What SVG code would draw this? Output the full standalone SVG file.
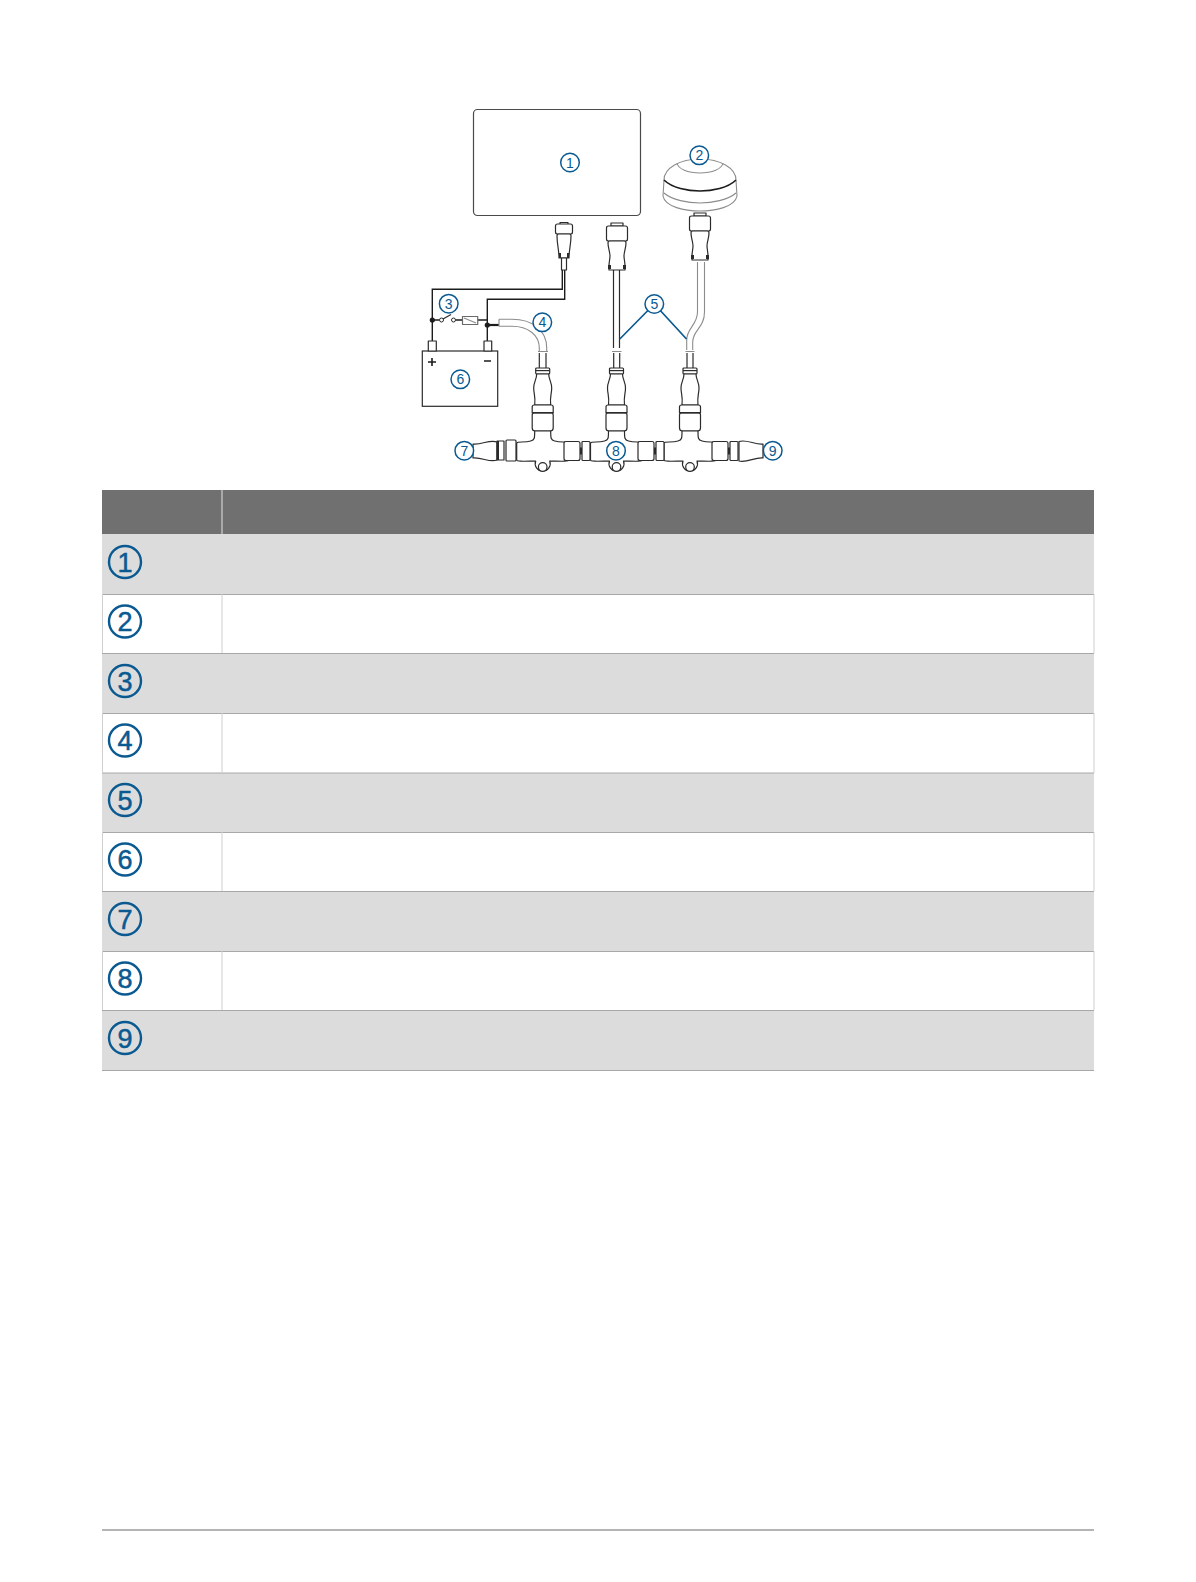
<svg xmlns="http://www.w3.org/2000/svg" width="1196" height="1582" viewBox="0 0 1196 1582">
<style>
.l{fill:none;stroke:#2b2b2b;stroke-width:1.2}
.g{fill:none;stroke:#8c8c8c;stroke-width:1.1}
.w{fill:none;stroke:#1c1c1c;stroke-width:1.4}
.s{fill:#fff;stroke:#2b2b2b;stroke-width:1.2;stroke-linejoin:round}
.k{fill:#2b2b2b}
.c{fill:#fff;stroke:#0a5a91;stroke-width:1.5}
.n{font-family:"Liberation Sans",sans-serif;font-size:14px;fill:#0a5a91;text-anchor:middle}
.tc{fill:none;stroke:#0a5a91;stroke-width:2.4}
.tn{font-family:"Liberation Sans",sans-serif;font-size:27px;fill:#0a5a91;text-anchor:middle;stroke:#0a5a91;stroke-width:.5}
.grey{fill:#dcdcdc}
.rl{stroke:#a8a8a8;stroke-width:1;fill:none}
.vl{stroke:#cfcfcf;stroke-width:1;fill:none}
.d{fill:#1c1c1c}
</style>
<defs>
<g id="fem">
<path class="s" d="M-7,1 q0,-1 1,-1 h12 q1,0 1,1 v4 q0,1 -1,1 h-12 q-1,0 -1,-1z"/>
<path class="k" d="M-7,2h14v1.2h-14z"/>
<path class="s" d="M-6,6 C-6,11 -9,14 -9,20 C-9,26 -7,28 -8,37 H8 C7,28 9,26 9,20 C9,14 6,11 6,6z"/>
<path class="s" d="M-10.5,39 q0,-2 2,-2 h17 q2,0 2,2 v6 h-21z"/>
<path class="s" d="M-10.5,47 q0,-2 2,-2 h17 q2,0 2,2 v13 q0,3 -3,3 h-15 q-3,0 -3,-3z"/>
<path class="k" d="M-10.5,44h21v1.4h-21z"/>
</g>
<g id="tee">
<path class="s" d="M-8,-1 C-8,6 -8,8 -12,9 C-18,11 -25,9 -26,11 V28 C-26,30 -14,29 -7,29 A7.5,7.5 0 1 0 7,29 C14,29 26,30 26,28 V11 C25,9 18,11 12,9 C8,8 8,6 8,-1z"/>
<circle class="s" cx="0" cy="35" r="4.3"/>
</g>
<g id="nutH">
<path class="s" d="M0,2 q0,-2 2,-2 h12 q2,0 2,2 v15 q0,2 -2,2 h-12 q-2,0 -2,-2z"/>
<path class="s" d="M18,1 q0,-1 1,-1 h6 q1,0 1,1 v17 q0,1 -1,1 h-6 q-1,0 -1,-1z"/>
<path class="k" d="M16,6h2v7h-2z"/>
</g>
<g id="male">
<path class="s" d="M-6,-3 h12 v3 h-12z"/>
<path class="s" d="M-10.5,2 q0,-2 2,-2 h17 q2,0 2,2 v11 q0,2 -2,2 h-17 q-2,0 -2,-2z"/>
<path class="s" d="M-9,17 q0,-2 2,-2 h14 q2,0 2,2 C9,22 7,26 7,30 C7,33 8,36 8,40 V44 H-8 V40 C-8,36 -7,33 -7,30 C-7,26 -9,22 -9,17z"/>
<path class="k" d="M-9,39h3v4h-3zM6,39h3v4h-3z"/>
</g>
</defs>

<g id="table">
<rect x="102" y="490" width="992" height="44" fill="#717070"/>
<path d="M222,490V534" stroke="#e4e4e4" stroke-width="1"/>
<rect class="grey" x="102" y="534" width="992" height="60"/>
<rect class="grey" x="102" y="653.5" width="992" height="60"/>
<rect class="grey" x="102" y="773" width="992" height="60"/>
<rect class="grey" x="102" y="891.5" width="992" height="60"/>
<rect class="grey" x="102" y="1010" width="992" height="60"/>
<path class="rl" d="M102,594.5H1094M102,653.5H1094M102,713.5H1094M102,773H1094M102,832.5H1094M102,891.5H1094M102,951.5H1094M102,1010.5H1094M102,1070.5H1094"/>
<path class="vl" d="M102.5,594V653M222,594V653M1094,594V653M102.5,713V773M222,713V773M1094,713V773M102.5,832V891M222,832V891M1094,832V891M102.5,951V1010M222,951V1010M1094,951V1010"/>
<g id="row1"><circle class="tc" cx="125" cy="562" r="16"/><text class="tn" x="125" y="571.5">1</text></g>
<g id="row2"><circle class="tc" cx="125" cy="621.5" r="16"/><text class="tn" x="125" y="631">2</text></g>
<g id="row3"><circle class="tc" cx="125" cy="681" r="16"/><text class="tn" x="125" y="690.5">3</text></g>
<g id="row4"><circle class="tc" cx="125" cy="740.5" r="16"/><text class="tn" x="125" y="750">4</text></g>
<g id="row5"><circle class="tc" cx="125" cy="800" r="16"/><text class="tn" x="125" y="809.5">5</text></g>
<g id="row6"><circle class="tc" cx="125" cy="859.5" r="16"/><text class="tn" x="125" y="869">6</text></g>
<g id="row7"><circle class="tc" cx="125" cy="919" r="16"/><text class="tn" x="125" y="928.5">7</text></g>
<g id="row8"><circle class="tc" cx="125" cy="978.5" r="16"/><text class="tn" x="125" y="988">8</text></g>
<g id="row9"><circle class="tc" cx="125" cy="1038" r="16"/><text class="tn" x="125" y="1047.5">9</text></g>
</g>
<path id="footer" d="M102,1530H1094" stroke="#6a6a6a" stroke-width="1"/>

<g id="connectors">
<path class="w" d="M432.3,341V289.3H562.3V270M487.3,341V299.3H564.7V270"/>
<path class="w" d="M432.3,320H439.5M455.5,320H462.5M477.7,320H487.3"/>
<path d="M487.3,325H499" stroke="#1c1c1c" stroke-width="2.2"/>
<path class="l" d="M613.5,270V348M619.5,270V348"/>
<path class="g" d="M697.5,262V312C697.5,325 686.7,328 686.7,340V350M704.5,262V312C704.5,328 692.7,330 692.7,342V350"/>
<path class="g" d="M499,319.3V326.3M499,319.3H512C532,319.3 546.7,330 546.7,348V351M499,326.3H512C528,326.3 539.3,335 539.3,348V351"/>
<path class="l" d="M539.3,353V368M546,353V368M613.7,353V368M619.7,353V368M687,353V368M693,353V368"/>
<path class="g" d="M538,351.5H548M612,351.5H621.5M685.5,351.5H694.5" stroke-width="2"/>
<path d="M654.3,304L619.8,339M654.3,304L686.5,339" fill="none" stroke="#0a5a91" stroke-width="1.7"/>
</g>

<g id="node1"><rect x="473.5" y="109.5" width="167" height="106" rx="4" fill="#fff" stroke="#4a4a4a" stroke-width="1.2"/></g>

<g id="node2">
<path d="M663,196C665,207 685,211 700,211C715,211 735,207 737,196L736.5,180H663.5z" fill="#fff"/>
<path class="g" d="M664,180L663,196C665,207 685,211 700,211C715,211 735,207 737,196L736,180"/>
<path class="g" d="M664,193C672,200 688,203 700,203C712,203 728,200 736,193"/>
<path d="M664,180C664,168 680,159 700,159C720,159 736,168 736,180" fill="none" stroke="#8c8c8c" stroke-width="1.1"/>
<path d="M664,180C672,188 688,191 700,191C712,191 728,188 736,180" fill="none" stroke="#1c1c1c" stroke-width="1.6"/>
<path class="g" d="M677,163C678,169 688,173 700,173C712,173 722,169 723,163"/>
<use href="#male" x="700" y="216"/>
</g>

<g id="node2b">
<use href="#male" x="617" y="226"/>
</g>

<g id="node1c">
<path class="s" d="M560,222.5 h8 v2 h-8z"/>
<path class="s" d="M555.5,226 q0,-2 2,-2 h13 q2,0 2,2 v6 q0,2 -2,2 h-13 q-2,0 -2,-2z"/>
<path class="s" d="M557,236 q0,-2 2,-2 h10 q2,0 2,2 C571,244 569,250 569,258 H559 C559,250 557,244 557,236z"/>
<path class="k" d="M559,253h2v5h-2zM567,253h2v5h-2z"/>
<path class="s" d="M561.5,258 h5 v12 h-5z"/>
</g>

<g id="node3">
<rect x="422.3" y="351" width="75.4" height="55.3" fill="#fff" stroke="#2b2b2b" stroke-width="1.2"/>
<rect class="s" x="428.3" y="341" width="8" height="10"/>
<rect class="s" x="484" y="341" width="7.7" height="10"/>
<path d="M428,362H436M432,358V366M484,361H491" stroke="#1c1c1c" stroke-width="1.6" fill="none"/>
<circle class="d" cx="432.3" cy="320" r="2.6"/>
<circle class="d" cx="487.3" cy="325" r="2.6"/>
<circle cx="441.5" cy="320" r="2" fill="#fff" stroke="#2b2b2b"/>
<circle cx="453.5" cy="320" r="2" fill="#fff" stroke="#2b2b2b"/>
<path class="l" d="M443,319L451,314.5"/>
<rect class="s" x="462.5" y="316.5" width="15.2" height="8" style="stroke:#6a6a6a"/>
<path class="l" d="M464,318L476,323" style="stroke:#8c8c8c"/>
</g>

<g id="node4">
<use href="#fem" x="542.7" y="368"/>
<use href="#fem" x="616.5" y="368"/>
<use href="#fem" x="690" y="368"/>
<use href="#tee" x="542.7" y="432"/>
<use href="#tee" x="616.5" y="432"/>
<use href="#tee" x="690" y="432"/>
<path class="s" d="M497,442 C490,439 482,445 473,444 V458 C482,457 490,463 497,460z"/>
<path class="s" d="M497,441 h7 v19 h-7z"/>
<path class="k" d="M497,441h2v19h-2z"/>
<path class="s" d="M506,441 q0,-1 1,-1 h8 q1,0 1,1 v19 q0,1 -1,1 h-8 q-1,0 -1,-1z"/>
<use href="#nutH" x="564" y="441.5"/>
<use href="#nutH" x="638" y="441.5"/>
<use href="#nutH" x="712" y="441.5"/>
<path class="s" d="M739,441.5 C747,439 755,445 763,444 V458 C755,457 747,463 739,461z"/>
</g>

<g id="labels">
<circle class="c" cx="570" cy="162.5" r="9.3"/><text class="n" x="570" y="167.5">1</text>
<circle class="c" cx="699.3" cy="155.3" r="9.3"/><text class="n" x="699.3" y="160.3">2</text>
<circle class="c" cx="448.7" cy="303.7" r="9.3"/><text class="n" x="448.7" y="308.7">3</text>
<circle class="c" cx="542.3" cy="322.3" r="9.3"/><text class="n" x="542.3" y="327.3">4</text>
<circle class="c" cx="654.3" cy="304" r="9.3"/><text class="n" x="654.3" y="309">5</text>
<circle class="c" cx="460.3" cy="379.3" r="9.3"/><text class="n" x="460.3" y="384.3">6</text>
<circle class="c" cx="464.3" cy="450.7" r="9.3"/><text class="n" x="464.3" y="455.7">7</text>
<circle class="c" cx="616" cy="450.7" r="9.3"/><text class="n" x="616" y="455.7">8</text>
<circle class="c" cx="772.7" cy="450.7" r="9.3"/><text class="n" x="772.7" y="455.7">9</text>
</g>
</svg>
